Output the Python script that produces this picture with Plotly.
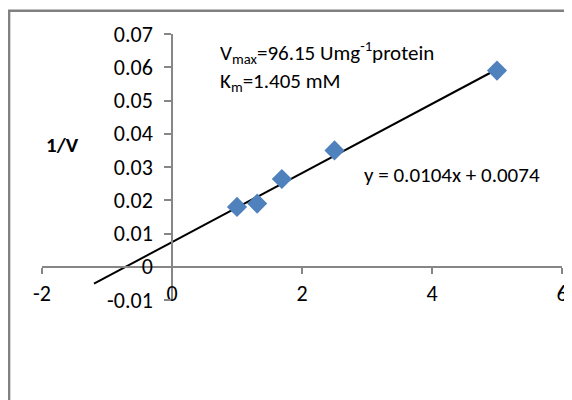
import plotly.graph_objects as go

# Data
inv_s = [1.0, 1.31, 1.69, 2.5, 5.0]
inv_v = [0.018, 0.019, 0.0264, 0.035, 0.059]
slope = 0.0104
intercept = 0.0074
trend_x = [-1.2, 5.0]
trend_y = [slope * x + intercept for x in trend_x]

x_tickvals = [-2, 0, 2, 4, 6]
x_ticktext = ["-2", "0", "2", "4", "6"]
y_tickvals = [-0.01, 0, 0.01, 0.02, 0.03, 0.04, 0.05, 0.06, 0.07]
y_ticktext = ["-0.01", "0", "0.01", "0.02", "0.03", "0.04", "0.05", "0.06", "0.07"]

FONT = "Carlito, Calibri, Lato, sans-serif"
FS = 21
TFS = 22
AXC = "#868686"

W, H = 572, 400
L, T = 34, 25.5
PW, PH = 519.6, 266.5
R = W - L - PW
B = H - T - PH

fig = go.Figure()
fig.add_trace(go.Scatter(x=trend_x, y=trend_y, mode="lines",
                         line=dict(color="black", width=2), showlegend=False))
fig.add_trace(go.Scatter(x=inv_s, y=inv_v, mode="markers",
                         marker=dict(symbol="diamond", size=15.5, color="#4F81BD"),
                         showlegend=False))

xr = [-2, 6]
yr = [-0.01, 0.07]
tf = dict(family=FONT, size=TFS, color="black")
fig.update_layout(
    width=W, height=H,
    margin=dict(l=L, r=R, t=T, b=B, autoexpand=False),
    paper_bgcolor="white", plot_bgcolor="white",
    font=dict(family=FONT, size=FS, color="black"),
    xaxis=dict(range=xr, tickvals=x_tickvals, ticktext=x_ticktext, automargin=False,
               tickfont=tf,
               showgrid=False, zeroline=False, showline=True, linecolor=AXC, linewidth=1.5,
               ticks="outside", ticklen=6, tickcolor=AXC, tickwidth=1.5,
               anchor="free", position=(0 - yr[0]) / (yr[1] - yr[0]),
               ticklabelstandoff=1),
    yaxis=dict(range=yr, tickvals=y_tickvals, ticktext=y_ticktext, automargin=False,
               tickfont=tf,
               showgrid=False, zeroline=False, showline=True, linecolor=AXC, linewidth=1.5,
               ticks="outside", ticklen=7, tickcolor=AXC, tickwidth=1.5,
               anchor="free", position=(0 - xr[0]) / (xr[1] - xr[0]),
               ticklabelstandoff=7),
)

# chart border (left/top visible, right/bottom beyond the window)
fig.add_shape(type="rect", xref="paper", yref="paper",
              x0=(1.2 - L) / PW, x1=1.3, y0=-0.6, y1=1 + (T - 2.2) / PH,
              line=dict(color="#808080", width=2.3), fillcolor="rgba(0,0,0,0)", layer="below")

fig.add_annotation(x=0.70, y=0.0645, xref="x", yref="y", xanchor="left", yanchor="middle",
                   text="V<sub>max</sub>=96.15 Umg<sup>-1</sup>protein", showarrow=False,
                   font=dict(family=FONT, size=FS))
fig.add_annotation(x=0.70, y=0.0556, xref="x", yref="y", xanchor="left", yanchor="middle",
                   text="K<sub>m</sub>=1.405 mM", showarrow=False,
                   font=dict(family=FONT, size=FS))
fig.add_annotation(x=2.93, y=0.0275, xref="x", yref="y", xanchor="left", yanchor="middle",
                   text="y = 0.0104x + 0.0074", showarrow=False,
                   font=dict(family=FONT, size=FS))
fig.add_annotation(x=-1.69, y=0.0366, xref="x", yref="y", xanchor="center", yanchor="middle",
                   text="<b>1/V</b>", showarrow=False, font=dict(family=FONT, size=FS))
fig.add_annotation(x=2.0, y=-0.0213, xref="x", yref="y", xanchor="center", yanchor="middle",
                   text="<b>1/S</b>", showarrow=False, font=dict(family=FONT, size=FS))

fig.write_html("out.html")
